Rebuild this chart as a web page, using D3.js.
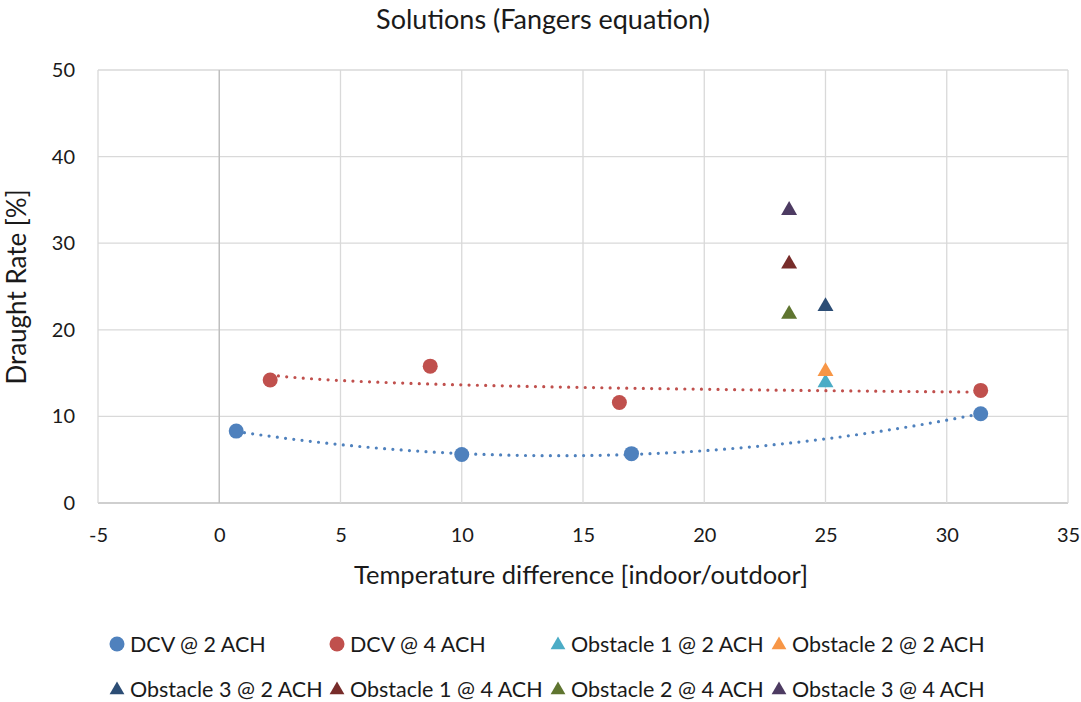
<!DOCTYPE html>
<html>
<head>
<meta charset="utf-8">
<script src="https://cdn.jsdelivr.net/npm/d3@7"></script>
<style>
  body { margin: 0; background: #fff; }
  svg text { font-family: Lato, "Open Sans", sans-serif; fill: #1a1a1a; }
</style>
</head>
<body>
<div id="vis"></div>
<script>
const WIDTH = 1081;
const HEIGHT = 702;
const MARGINS = {left: 98, right: 13, top: 70, bottom: 199};

const VIS_WIDTH = WIDTH - MARGINS.left - MARGINS.right;
const VIS_HEIGHT = HEIGHT - MARGINS.top - MARGINS.bottom;

// data
const dcv2_x = [0.7, 10.0, 17.0, 31.4];
const dcv2_y = [8.3, 5.6, 5.7, 10.3];
const dcv4_x = [2.1, 8.7, 16.5, 31.4];
const dcv4_y = [14.2, 15.8, 11.6, 13.0];

const obstacleNames = ["Obstacle 1 @ 2 ACH", "Obstacle 2 @ 2 ACH", "Obstacle 3 @ 2 ACH",
                       "Obstacle 1 @ 4 ACH", "Obstacle 2 @ 4 ACH", "Obstacle 3 @ 4 ACH"];
const obstacle_x = [25, 25, 25, 23.5, 23.5, 23.5];
const obstacle_y = [13.9, 15.2, 22.7, 27.6, 21.8, 33.8];
const obstacleColors = ["#4BACC6", "#F79646", "#2C4D75", "#772C2A", "#5F7530", "#4D3B62"];

const X_TICKS = [-5, 0, 5, 10, 15, 20, 25, 30, 35];
const Y_TICKS = [0, 10, 20, 30, 40, 50];

const BLUE = "#4F81BD";
const RED = "#C0504D";

const FRAME = d3.select("#vis")
    .append("svg")
    .attr("width", WIDTH)
    .attr("height", HEIGHT);

const X_SCALE = d3.scaleLinear().domain([-5, 35]).range([MARGINS.left, MARGINS.left + VIS_WIDTH]);
const Y_SCALE = d3.scaleLinear().domain([0, 50]).range([MARGINS.top + VIS_HEIGHT, MARGINS.top]);

// gridlines
FRAME.append("g")
    .selectAll("line")
    .data(Y_TICKS)
    .enter().append("line")
    .attr("x1", X_SCALE(-5)).attr("x2", X_SCALE(35))
    .attr("y1", d => Y_SCALE(d)).attr("y2", d => Y_SCALE(d))
    .attr("stroke", d => d === 0 ? "#bfbfbf" : "#d9d9d9")
    .attr("stroke-width", d => d === 0 ? 1.5 : 1.3);

FRAME.append("g")
    .selectAll("line")
    .data(X_TICKS)
    .enter().append("line")
    .attr("x1", d => X_SCALE(d)).attr("x2", d => X_SCALE(d))
    .attr("y1", Y_SCALE(0)).attr("y2", Y_SCALE(50))
    .attr("stroke", d => d === 0 ? "#bfbfbf" : "#d9d9d9")
    .attr("stroke-width", d => d === 0 ? 1.5 : 1.3);

// axes (labels only)
const xAxis = FRAME.append("g")
    .attr("transform", `translate(0,${Y_SCALE(0)})`)
    .call(d3.axisBottom(X_SCALE).tickValues(X_TICKS).tickSize(0).tickPadding(25));
const yAxis = FRAME.append("g")
    .attr("transform", `translate(${X_SCALE(-5)},0)`)
    .call(d3.axisLeft(Y_SCALE).tickValues(Y_TICKS).tickSize(0).tickPadding(23)
        .tickFormat(d3.format("d")));
xAxis.call(a => a.selectAll("text").text(d => String(d)));   // plain hyphen for -5
[xAxis, yAxis].forEach(a => {
    a.select(".domain").remove();
    a.selectAll("text").attr("font-size", 20).attr("fill", "#1a1a1a")
        .style("font-family", "Lato, sans-serif");
});

// quadratic least-squares trendline
function polyFit2(xs, ys) {
    let S = [0, 0, 0, 0, 0], T = [0, 0, 0];
    xs.forEach((x, i) => {
        for (let k = 0; k < 5; k++) S[k] += Math.pow(x, k);
        for (let k = 0; k < 3; k++) T[k] += ys[i] * Math.pow(x, k);
    });
    const A = [[S[0], S[1], S[2], T[0]], [S[1], S[2], S[3], T[1]], [S[2], S[3], S[4], T[2]]];
    for (let i = 0; i < 3; i++) {
        for (let j = i + 1; j < 3; j++) {
            const f = A[j][i] / A[i][i];
            for (let k = i; k < 4; k++) A[j][k] -= f * A[i][k];
        }
    }
    const c = [0, 0, 0];
    for (let i = 2; i >= 0; i--) {
        let s = A[i][3];
        for (let k = i + 1; k < 3; k++) s -= A[i][k] * c[k];
        c[i] = s / A[i][i];
    }
    return x => c[0] + c[1] * x + c[2] * x * x;
}

// logarithmic least-squares trendline: y = a + b ln x
function logFit(xs, ys) {
    const lx = xs.map(Math.log);
    const mx = d3.mean(lx), my = d3.mean(ys);
    let sxy = 0, sxx = 0;
    lx.forEach((v, i) => { sxy += (v - mx) * (ys[i] - my); sxx += (v - mx) * (v - mx); });
    const b = sxy / sxx, a = my - b * mx;
    return x => a + b * Math.log(x);
}

const line = d3.line().x(d => X_SCALE(d[0])).y(d => Y_SCALE(d[1]));

function trend(xs, ys, f, color) {
    const x0 = d3.min(xs), x1 = d3.max(xs);
    const pts = d3.range(0, 101).map(i => {
        const x = x0 + (x1 - x0) * i / 100;
        return [x, f(x)];
    });
    FRAME.append("path")
        .datum(pts)
        .attr("d", line)
        .attr("fill", "none")
        .attr("stroke", color)
        .attr("stroke-width", 3.2)
        .attr("stroke-linecap", "round")
        .attr("stroke-dasharray", "0,8.3");
}
trend(dcv2_x, dcv2_y, polyFit2(dcv2_x, dcv2_y), BLUE);
trend(dcv4_x, dcv4_y, logFit(dcv4_x, dcv4_y), RED);

// circle markers
function dots(xs, ys, color) {
    FRAME.append("g")
        .selectAll("circle")
        .data(xs.map((x, i) => [x, ys[i]]))
        .enter().append("circle")
        .attr("cx", d => X_SCALE(d[0]))
        .attr("cy", d => Y_SCALE(d[1]))
        .attr("r", 7.5)
        .attr("fill", color);
}
dots(dcv2_x, dcv2_y, BLUE);
dots(dcv4_x, dcv4_y, RED);

// triangle markers
const tri = d3.symbol().type(d3.symbolTriangle).size(110);
FRAME.append("g")
    .selectAll("path")
    .data(obstacle_x.map((x, i) => ({x: x, y: obstacle_y[i], c: obstacleColors[i]})))
    .enter().append("path")
    .attr("d", tri)
    .attr("transform", d => `translate(${X_SCALE(d.x)},${Y_SCALE(d.y)})`)
    .attr("fill", d => d.c);

// title
FRAME.append("text")
    .attr("x", 543).attr("y", 29)
    .attr("text-anchor", "middle")
    .attr("font-size", 27)
    .text("Solutions (Fangers equation)");

// axis titles
FRAME.append("text")
    .attr("x", 581).attr("y", 584)
    .attr("text-anchor", "middle")
    .attr("font-size", 25.5)
    .text("Temperature difference [indoor/outdoor]");

FRAME.append("text")
    .attr("transform", "translate(26,287) rotate(-90)")
    .attr("text-anchor", "middle")
    .attr("font-size", 26)
    .text("Draught Rate [%]");

// legend
const legendItems = [
    {name: "DCV @ 2 ACH", c: BLUE, shape: "circle"},
    {name: "DCV @ 4 ACH", c: RED, shape: "circle"}
].concat(obstacleNames.map((n, i) => ({name: n, c: obstacleColors[i], shape: "tri"})));

const LEG_X = [117, 337, 558, 779];
const LEG_Y = [644, 689];
const legendTri = d3.symbol().type(d3.symbolTriangle).size(95);

const leg = FRAME.append("g")
    .selectAll("g")
    .data(legendItems)
    .enter().append("g")
    .attr("transform", (d, i) => `translate(${LEG_X[i % 4]},${LEG_Y[Math.floor(i / 4)]})`);

leg.filter(d => d.shape === "circle").append("circle")
    .attr("r", 7.5).attr("fill", d => d.c);
leg.filter(d => d.shape === "tri").append("path")
    .attr("d", legendTri).attr("transform", "translate(0,1)").attr("fill", d => d.c);
leg.append("text")
    .attr("x", 13).attr("y", 7.5)
    .attr("font-size", 21.5)
    .text(d => d.name);
</script>
</body>
</html>
